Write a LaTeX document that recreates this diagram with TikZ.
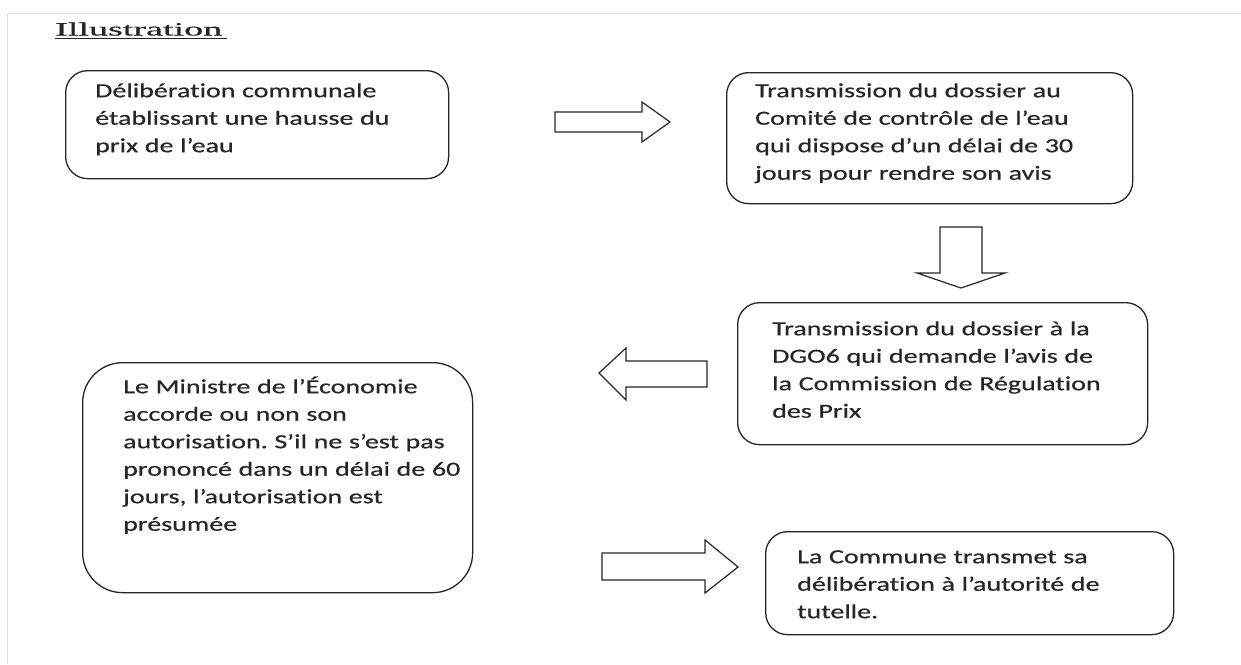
\documentclass[tikz,border=0pt]{standalone}
\usepackage{fontspec}
\setmainfont{Carlito}
\newfontfamily\bodyfont{Carlito}[FakeStretch=1.4, FakeBold=0.6, Ligatures=NoCommon]
\newfontfamily\titlefont{Liberation Serif}[FakeBold=0.5]
\definecolor{ink}{HTML}{262626}
\frenchspacing
\begin{document}
\begin{tikzpicture}[x=1pt,y=-1pt,
  box/.style={draw=ink, line width=1.3pt, rounded corners=22pt, inner sep=0pt, anchor=north west},
  txt/.style={anchor=north west, inner sep=0pt, text width=430pt, align=left, text=ink,
    font=\bodyfont\fontsize{20}{27.5}\selectfont},
  barrow/.style={draw=ink, line width=1.2pt, fill=white, line join=miter}]
\useasboundingbox (0,0) rectangle (1241,664);
\draw[black!12, line width=1pt] (7,664) -- (7,13) -- (1241,13);
% title
\node[anchor=base west, inner sep=0pt, text=ink] (title) at (55,35.5) {\resizebox{167pt}{13pt}{\titlefont Illustration}};
\draw[ink, line width=1.1pt] (55,38.5) -- (227,38.5);
% boxes
\node[box, minimum width=383pt, minimum height=108pt] (b1) at (65,70) {};
\node[box, minimum width=406pt, minimum height=131pt] (b2) at (726,72) {};
\node[box, minimum width=410pt, minimum height=142pt] (b3) at (737,302) {};
\node[box, rounded corners=40pt, minimum width=390pt, minimum height=230pt] (b4) at (82,362) {};
\node[box, minimum width=408pt, minimum height=103pt] (b5) at (765,531) {};
% texts
\node[txt] (t1) at (95,77.75) {\strut Délibération communale\\établissant une hausse du\\prix de l’eau};
\node[txt] (t2) at (755,77.75) {\strut Transmission du dossier au\\Comité de contrôle de l’eau\\qui dispose d’un délai de 30\\jours pour rendre son avis};
\node[txt] (t3) at (772,315.75) {\strut Transmission du dossier à la\\DGO6 qui demande l’avis de\\la Commission de Régulation\\des Prix};
\node[txt] (t4) at (123,373.75) {\strut Le Ministre de l’Économie\\accorde ou non son\\autorisation. S’il ne s’est pas\\prononcé dans un délai de 60\\jours, l’autorisation est\\présumée};
\node[txt] (t5) at (797,543.75) {\strut La Commune transmet sa\\délibération à l’autorité de\\tutelle.};
% block arrows
\draw[barrow] (555,112) -- (642,112) -- (642,102) -- (670,122) -- (642,142) -- (642,132) -- (555,132) -- cycle;
\draw[barrow] (940,227) -- (982,227) -- (982,273) -- (1005,273) -- (961,288) -- (917,273) -- (940,273) -- cycle;
\draw[barrow] (707,361) -- (626,361) -- (626,348) -- (599,373) -- (626,400) -- (626,387) -- (707,387) -- cycle;
\draw[barrow] (602,553) -- (705,553) -- (705,540) -- (738,567) -- (705,593) -- (705,580) -- (602,580) -- cycle;
\end{tikzpicture}
\end{document}
